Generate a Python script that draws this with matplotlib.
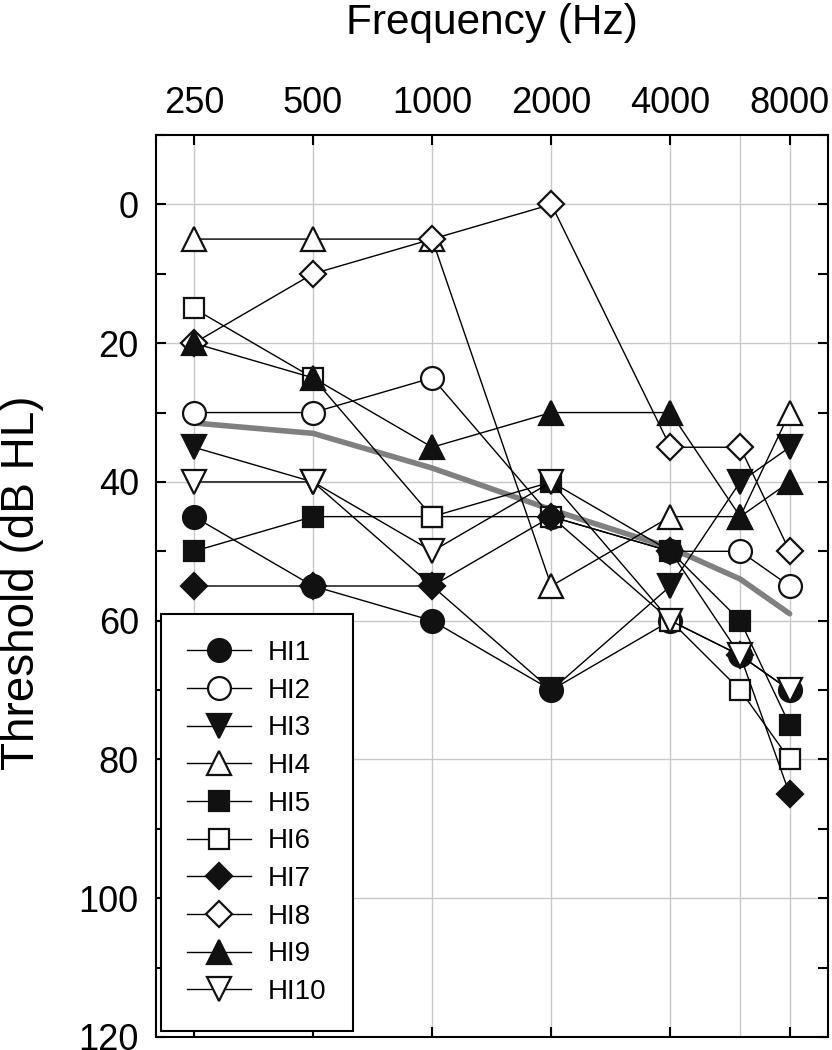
import matplotlib
matplotlib.use("Agg")
import matplotlib.pyplot as plt

plt.rcParams['font.family'] = ['Liberation Sans', 'DejaVu Sans']

freqs = [250, 500, 1000, 2000, 4000, 6000, 8000]
tick_freqs = [250, 500, 1000, 2000, 4000, 8000]
tick_labels = ["250", "500", "1000", "2000", "4000", "8000"]

hi1 = [45, 55, 60, 70, 60, 65, 70]
hi2 = [30, 30, 25, 45, 50, 50, 55]
hi3 = [35, 40, 55, 70, 55, 40, 35]
hi4 = [5, 5, 5, 55, 45, 45, 30]
hi5 = [50, 45, 45, 40, 50, 60, 75]
hi6 = [15, 25, 45, 45, 60, 70, 80]
hi7 = [55, 55, 55, 45, 50, 65, 85]
hi8 = [20, 10, 5, 0, 35, 35, 50]
hi9 = [20, 25, 35, 30, 30, 45, 40]
hi10 = [40, 40, 50, 40, 60, 65, 70]
mean_thr = [31.5, 33, 38, 44, 49.5, 54, 59]

labels = ["HI1", "HI2", "HI3", "HI4", "HI5", "HI6", "HI7", "HI8", "HI9", "HI10"]
series = [hi1, hi2, hi3, hi4, hi5, hi6, hi7, hi8, hi9, hi10]
markers = ['o', 'o', 'v', '^', 's', 's', 'D', 'D', '^', 'v']
filled = [True, False, True, False, True, False, True, False, True, False]
msizes = {'o': 16.5, 'v': 17, '^': 17, 's': 15, 'D': 13.5}

fig = plt.figure(figsize=(8.32, 10.5), dpi=100)
ax = fig.add_axes([0.1869, 0.0124, 0.9952 - 0.1869, 0.8714 - 0.0124])

ax.set_xscale('log')
ax.set_xlim(200, 10000)
ax.set_ylim(120, -10)

# grid
for f in freqs:
    ax.axvline(f, color='#c8c8c8', lw=1.0, zorder=0)
for yv in range(0, 121, 20):
    ax.axhline(yv, color='#c8c8c8', lw=1.0, zorder=0)

ax.plot(freqs, mean_thr, color='#808080', lw=4.0, solid_capstyle='round', zorder=1.5)

handles = []
for i, (lab, ys, mk, fl) in enumerate(zip(labels, series, markers, filled)):
    h, = ax.plot(freqs, ys, color='black', lw=1.0, marker=mk,
                 markersize=msizes[mk], markeredgewidth=1.6,
                 markerfacecolor=('#111111' if fl else 'white'),
                 markeredgecolor='#111111', label=lab, zorder=2 + i * 0.01)
    handles.append(h)

ax.xaxis.tick_top()
ax.set_xticks(tick_freqs)
ax.set_xticklabels(tick_labels)
ax.xaxis.set_minor_locator(matplotlib.ticker.NullLocator())
ax.set_yticks(range(0, 121, 20))
ax.set_yticks(range(-10, 121, 10), minor=True)
ax.tick_params(axis='both', which='both', direction='in', width=1.5,
               labelsize=26, top=True, bottom=True, left=True, right=True)
ax.tick_params(axis='x', which='major', length=7, pad=10, labeltop=True, labelbottom=False)
ax.tick_params(axis='y', which='major', length=7, pad=12)
ax.tick_params(axis='y', which='minor', length=7)
for s in ax.spines.values():
    s.set_linewidth(1.5)

fig.text(492 / 832, 1 - 23 / 1050, "Frequency (Hz)", fontsize=30.5,
         ha='center', va='center')
fig.text(22 / 832, 1 - 583 / 1050, "Threshold (dB HL)", fontsize=33,
         ha='center', va='center', rotation=90)

leg = ax.legend(handles=handles, loc='lower left', fontsize=20,
                frameon=True, fancybox=False, edgecolor='black',
                framealpha=1.0, borderpad=0.95, borderaxespad=0.2,
                handlelength=2.3, handletextpad=0.6, labelspacing=0.42)
leg.get_frame().set_linewidth(1.5)

fig.savefig("out.png", dpi=100)
